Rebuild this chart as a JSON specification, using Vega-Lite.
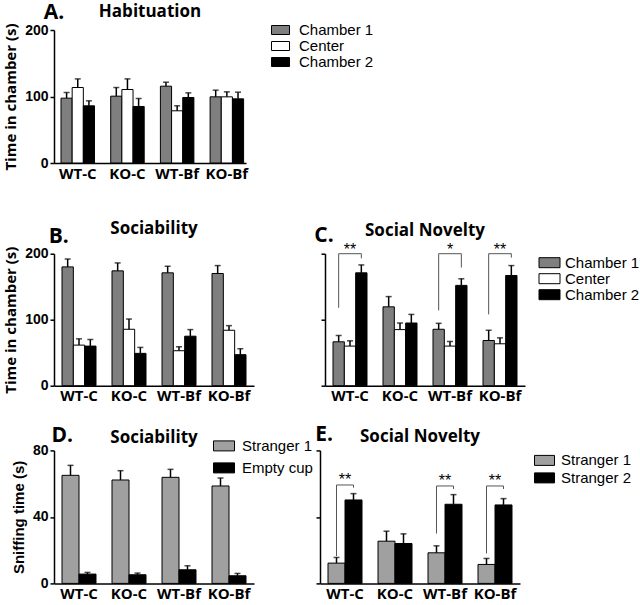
{
  "$schema": "https://vega.github.io/schema/vega-lite/v6.json",
  "padding": {"left": 3, "top": 1, "right": 0, "bottom": 0},
  "background": "white",
  "spacing": 38.7,
  "resolve": {"scale": {"fill": "independent", "xOffset": "independent", "x": "independent", "y": "independent"}, "legend": {"fill": "independent"}},
  "config": {
    "view": {"stroke": null},
    "axis": {"domainColor": "black", "domainWidth": 1.5, "tickColor": "black", "tickWidth": 1.5, "tickSize": 4, "grid": false, "labelColor": "black", "titleColor": "black"},
    "axisX": {"ticks": false, "labelAngle": 0, "labelFont": "Open Sans", "labelFontWeight": "bold", "labelFontSize": 15, "labelPadding": 3},
    "axisY": {"labelFont": "Liberation Sans", "labelFontWeight": "bold", "labelFontSize": 14, "labelPadding": 2, "titleFont": "Open Sans", "titleFontWeight": "bold", "titleFontSize": 15, "titlePadding": 6},
    "legend": {"labelFont": "Liberation Sans", "labelFontSize": 15, "labelColor": "black", "symbolStrokeColor": "black", "symbolStrokeWidth": 1, "rowPadding": 0, "labelOffset": 6, "padding": 0, "symbolOpacity": 1, "symbolSize": 100},
    "title": {"font": "Open Sans", "fontWeight": "bold", "fontSize": 17, "color": "black"}
  },
  "datasets": {
    "A": [
      {"g": "WT-C", "s": "Chamber 1", "v": 97.5, "hi": 106},
      {"g": "WT-C", "s": "Center", "v": 113.5, "hi": 126.5},
      {"g": "WT-C", "s": "Chamber 2", "v": 86, "hi": 93.5},
      {"g": "KO-C", "s": "Chamber 1", "v": 100.5, "hi": 113.5},
      {"g": "KO-C", "s": "Center", "v": 110.5, "hi": 126.5},
      {"g": "KO-C", "s": "Chamber 2", "v": 85, "hi": 97},
      {"g": "WT-Bf", "s": "Chamber 1", "v": 115.5, "hi": 121.5},
      {"g": "WT-Bf", "s": "Center", "v": 78.5, "hi": 86},
      {"g": "WT-Bf", "s": "Chamber 2", "v": 98.5, "hi": 105.5},
      {"g": "KO-Bf", "s": "Chamber 1", "v": 99.5, "hi": 109.5},
      {"g": "KO-Bf", "s": "Center", "v": 99.5, "hi": 107},
      {"g": "KO-Bf", "s": "Chamber 2", "v": 96.5, "hi": 106.5}
    ],
    "B": [
      {"g": "WT-C", "s": "Chamber 1", "v": 180, "hi": 192},
      {"g": "WT-C", "s": "Center", "v": 61.5, "hi": 71},
      {"g": "WT-C", "s": "Chamber 2", "v": 60, "hi": 70},
      {"g": "KO-C", "s": "Chamber 1", "v": 174, "hi": 186},
      {"g": "KO-C", "s": "Center", "v": 85.5, "hi": 101},
      {"g": "KO-C", "s": "Chamber 2", "v": 49, "hi": 58},
      {"g": "WT-Bf", "s": "Chamber 1", "v": 171, "hi": 181},
      {"g": "WT-Bf", "s": "Center", "v": 53, "hi": 59},
      {"g": "WT-Bf", "s": "Chamber 2", "v": 75, "hi": 85},
      {"g": "KO-Bf", "s": "Chamber 1", "v": 170, "hi": 182},
      {"g": "KO-Bf", "s": "Center", "v": 84, "hi": 91},
      {"g": "KO-Bf", "s": "Chamber 2", "v": 47, "hi": 56}
    ],
    "C": [
      {"g": "WT-C", "s": "Chamber 1", "v": 66.5, "hi": 76},
      {"g": "WT-C", "s": "Center", "v": 60, "hi": 68},
      {"g": "WT-C", "s": "Chamber 2", "v": 171, "hi": 183},
      {"g": "KO-C", "s": "Chamber 1", "v": 119.5, "hi": 135},
      {"g": "KO-C", "s": "Center", "v": 85, "hi": 95},
      {"g": "KO-C", "s": "Chamber 2", "v": 95, "hi": 108},
      {"g": "WT-Bf", "s": "Chamber 1", "v": 85.5, "hi": 94.5},
      {"g": "WT-Bf", "s": "Center", "v": 60, "hi": 67},
      {"g": "WT-Bf", "s": "Chamber 2", "v": 152, "hi": 162},
      {"g": "KO-Bf", "s": "Chamber 1", "v": 68.5, "hi": 84},
      {"g": "KO-Bf", "s": "Center", "v": 63.5, "hi": 72.5},
      {"g": "KO-Bf", "s": "Chamber 2", "v": 167, "hi": 182}
    ],
    "Cbr": [
      {"g": "WT-C", "s": "Chamber 1", "y": 118, "o": 1},
      {"g": "WT-C", "s": "Chamber 1", "y": 200, "o": 2},
      {"g": "WT-C", "s": "Chamber 2", "y": 200, "o": 3},
      {"g": "WT-C", "s": "Chamber 2", "y": 193, "o": 4},
      {"g": "WT-Bf", "s": "Chamber 1", "y": 114, "o": 1},
      {"g": "WT-Bf", "s": "Chamber 1", "y": 200, "o": 2},
      {"g": "WT-Bf", "s": "Chamber 2", "y": 200, "o": 3},
      {"g": "WT-Bf", "s": "Chamber 2", "y": 179, "o": 4},
      {"g": "KO-Bf", "s": "Chamber 1", "y": 108, "o": 1},
      {"g": "KO-Bf", "s": "Chamber 1", "y": 200, "o": 2},
      {"g": "KO-Bf", "s": "Chamber 2", "y": 200, "o": 3},
      {"g": "KO-Bf", "s": "Chamber 2", "y": 194, "o": 4}
    ],
    "Cst": [
      {"g": "WT-C", "y": 200, "t": "**"},
      {"g": "WT-Bf", "y": 200, "t": "*"},
      {"g": "KO-Bf", "y": 200, "t": "**"}
    ],
    "D": [
      {"g": "WT-C", "s": "Stranger 1", "v": 65, "hi": 71},
      {"g": "WT-C", "s": "Empty cup", "v": 5.6, "hi": 6.6},
      {"g": "KO-C", "s": "Stranger 1", "v": 62.2, "hi": 67.8},
      {"g": "KO-C", "s": "Empty cup", "v": 5.2, "hi": 6.2},
      {"g": "WT-Bf", "s": "Stranger 1", "v": 63.8, "hi": 68.6},
      {"g": "WT-Bf", "s": "Empty cup", "v": 8.2, "hi": 10.6},
      {"g": "KO-Bf", "s": "Stranger 1", "v": 58.6, "hi": 63.4},
      {"g": "KO-Bf", "s": "Empty cup", "v": 4.6, "hi": 6}
    ],
    "E": [
      {"g": "WT-C", "s": "Stranger 1", "v": 12.2, "hi": 15.6},
      {"g": "WT-C", "s": "Stranger 2", "v": 50.2, "hi": 54},
      {"g": "KO-C", "s": "Stranger 1", "v": 25.4, "hi": 31.4},
      {"g": "KO-C", "s": "Stranger 2", "v": 24, "hi": 29.8},
      {"g": "WT-Bf", "s": "Stranger 1", "v": 18.4, "hi": 22.6},
      {"g": "WT-Bf", "s": "Stranger 2", "v": 47.6, "hi": 53.4},
      {"g": "KO-Bf", "s": "Stranger 1", "v": 11.4, "hi": 15},
      {"g": "KO-Bf", "s": "Stranger 2", "v": 47.2, "hi": 51}
    ],
    "Ebr": [
      {"g": "WT-C", "s": "Stranger 1", "y": 16.5, "o": 1},
      {"g": "WT-C", "s": "Stranger 1", "y": 59.2, "o": 2},
      {"g": "WT-C", "s": "Stranger 2", "y": 59.2, "o": 3},
      {"g": "WT-C", "s": "Stranger 2", "y": 57.6, "o": 4},
      {"g": "WT-Bf", "s": "Stranger 1", "y": 30, "o": 1},
      {"g": "WT-Bf", "s": "Stranger 1", "y": 58.6, "o": 2},
      {"g": "WT-Bf", "s": "Stranger 2", "y": 58.6, "o": 3},
      {"g": "WT-Bf", "s": "Stranger 2", "y": 56.8, "o": 4},
      {"g": "KO-Bf", "s": "Stranger 1", "y": 18, "o": 1},
      {"g": "KO-Bf", "s": "Stranger 1", "y": 58.6, "o": 2},
      {"g": "KO-Bf", "s": "Stranger 2", "y": 58.6, "o": 3},
      {"g": "KO-Bf", "s": "Stranger 2", "y": 56.8, "o": 4}
    ],
    "Est": [
      {"g": "WT-C", "y": 59.2, "t": "**"},
      {"g": "WT-Bf", "y": 58.6, "t": "**"},
      {"g": "KO-Bf", "y": 58.6, "t": "**"}
    ]
  },
  "vconcat": [
    {
      "title": {"text": "A.", "anchor": "start", "fontSize": 21, "offset": -20.3, "dx": 40},
      "resolve": {"scale": {"fill": "independent", "xOffset": "independent"}, "legend": {"fill": "independent"}},
      "hconcat": [
        {
          "title": {"text": "Habituation", "offset": 1.9},
          "width": 192, "height": 133,
          "data": {"name": "A"},
          "encoding": {
            "x": {"field": "g", "type": "nominal", "title": null, "scale": {"domain": ["WT-C", "KO-C", "WT-Bf", "KO-Bf"], "paddingInner": 0.326, "paddingOuter": 0.0946, "align": 0.745}},
            "xOffset": {"field": "s", "type": "nominal", "scale": {"domain": ["Chamber 1", "Center", "Chamber 2"], "paddingInner": 0, "paddingOuter": 0}}
          },
          "layer": [
            {
              "mark": {"type": "bar", "stroke": "black", "strokeWidth": 1},
              "encoding": {
                "y": {"field": "v", "type": "quantitative", "scale": {"domain": [0, 200]}, "axis": {"values": [0, 50, 100, 150, 200], "title": "Time in chamber (s)"}},
                "fill": {"field": "s", "type": "nominal", "scale": {"domain": ["Chamber 1", "Center", "Chamber 2"], "range": ["#7f7f7f", "#ffffff", "#000000"]},
                  "legend": {"orient": "none", "legendX": 219, "legendY": -7.5, "title": null, "symbolType": "M-1.8,-0.9H1.8V0.9H-1.8Z", "symbolSize": 100, "rowPadding": 0, "labelOffset": 11}}
              }
            },
            {"mark": {"type": "rule", "strokeWidth": 1.5, "color": "black"}, "encoding": {"y": {"field": "v", "type": "quantitative"}, "y2": {"field": "hi"}}},
            {"mark": {"type": "tick", "thickness": 1.5, "size": 6, "color": "black"}, "encoding": {"y": {"field": "hi", "type": "quantitative"}}}
          ]
        }
      ]
    },
    {
      "spacing": 19.7,
      "resolve": {"scale": {"fill": "independent", "xOffset": "independent", "x": "independent", "y": "independent"}, "legend": {"fill": "independent"}},
      "vconcat": [
        {
          "spacing": 60,
          "resolve": {"scale": {"fill": "independent", "xOffset": "independent", "x": "independent", "y": "independent"}, "legend": {"fill": "independent"}},
          "hconcat": [
            {
              "title": {"text": "B.", "anchor": "start", "fontSize": 21, "offset": -26.7, "dx": 45},
              "resolve": {"scale": {"fill": "independent", "xOffset": "independent"}, "legend": {"fill": "independent"}},
              "hconcat": [
                {
                  "title": {"text": "Sociability", "offset": 8},
                  "width": 200, "height": 132,
                  "data": {"name": "B"},
                  "encoding": {
                    "x": {"field": "g", "type": "nominal", "title": null, "scale": {"domain": ["WT-C", "KO-C", "WT-Bf", "KO-Bf"], "paddingInner": 0.32, "paddingOuter": 0.16}},
                    "xOffset": {"field": "s", "type": "nominal", "scale": {"domain": ["Chamber 1", "Center", "Chamber 2"], "paddingInner": 0, "paddingOuter": 0}}
                  },
                  "layer": [
                    {
                      "mark": {"type": "bar", "stroke": "black", "strokeWidth": 1},
                      "encoding": {
                        "y": {"field": "v", "type": "quantitative", "scale": {"domain": [0, 200]}, "axis": {"values": [0, 50, 100, 150, 200], "title": "Time in chamber (s)"}},
                        "fill": {"field": "s", "type": "nominal", "scale": {"domain": ["Chamber 1", "Center", "Chamber 2"], "range": ["#7f7f7f", "#ffffff", "#000000"]}, "legend": null}
                      }
                    },
                    {"mark": {"type": "rule", "strokeWidth": 1.5, "color": "black"}, "encoding": {"y": {"field": "v", "type": "quantitative"}, "y2": {"field": "hi"}}},
                    {"mark": {"type": "tick", "thickness": 1.5, "size": 6, "color": "black"}, "encoding": {"y": {"field": "hi", "type": "quantitative"}}}
                  ]
                }
              ]
            },
            {
              "title": {"text": "C.", "anchor": "start", "fontSize": 21, "offset": -23.8, "dx": -6},
              "resolve": {"scale": {"fill": "independent", "xOffset": "independent"}, "legend": {"fill": "independent"}},
              "hconcat": [
                {
                  "title": {"text": "Social Novelty", "offset": 1.4},
                  "width": 200, "height": 132,
                  "layer": [
                    {
                      "data": {"name": "C"},
                      "mark": {"type": "bar", "stroke": "black", "strokeWidth": 1},
                      "encoding": {
                        "x": {"field": "g", "type": "nominal", "title": null, "scale": {"domain": ["WT-C", "KO-C", "WT-Bf", "KO-Bf"], "paddingInner": 0.32, "paddingOuter": 0.16}},
                        "xOffset": {"field": "s", "type": "nominal", "scale": {"domain": ["Chamber 1", "Center", "Chamber 2"], "paddingInner": 0, "paddingOuter": 0}},
                        "y": {"field": "v", "type": "quantitative", "scale": {"domain": [0, 200]}, "axis": {"values": [0, 50, 100, 150, 200], "labels": false, "title": null}},
                        "fill": {"field": "s", "type": "nominal", "scale": {"domain": ["Chamber 1", "Center", "Chamber 2"], "range": ["#7f7f7f", "#ffffff", "#000000"]},
                          "legend": {"orient": "none", "legendX": 217, "legendY": 1.5, "title": null, "symbolType": "M-2.1,-1H2.1V1H-2.1Z", "symbolSize": 100, "rowPadding": 0, "labelOffset": 8}}
                      }
                    },
                    {"data": {"name": "C"}, "mark": {"type": "rule", "strokeWidth": 1.5, "color": "black"}, "encoding": {"x": {"field": "g", "type": "nominal"}, "xOffset": {"field": "s", "type": "nominal"}, "y": {"field": "v", "type": "quantitative"}, "y2": {"field": "hi"}}},
                    {"data": {"name": "C"}, "mark": {"type": "tick", "thickness": 1.5, "size": 6, "color": "black"}, "encoding": {"x": {"field": "g", "type": "nominal"}, "xOffset": {"field": "s", "type": "nominal"}, "y": {"field": "hi", "type": "quantitative"}}},
                    {"data": {"name": "Cbr"}, "mark": {"type": "line", "strokeWidth": 1, "color": "#555555"}, "encoding": {"x": {"field": "g", "type": "nominal"}, "xOffset": {"field": "s", "type": "nominal"}, "y": {"field": "y", "type": "quantitative"}, "detail": {"field": "g"}, "order": {"field": "o"}}},
                    {"data": {"name": "Cst"}, "mark": {"type": "text", "font": "Liberation Sans", "fontSize": 16, "baseline": "alphabetic", "fill": "black", "dy": 1}, "encoding": {"x": {"field": "g", "type": "nominal"}, "y": {"field": "y", "type": "quantitative"}, "text": {"field": "t"}}}
                  ]
                }
              ]
            }
          ]
        },
        {
          "spacing": 1,
          "resolve": {"scale": {"fill": "independent", "xOffset": "independent", "x": "independent", "y": "independent"}, "legend": {"fill": "independent"}},
          "hconcat": [
            {
              "title": {"text": "D.", "anchor": "start", "fontSize": 21, "offset": -16.8, "dx": 40},
              "resolve": {"scale": {"fill": "independent", "xOffset": "independent"}, "legend": {"fill": "independent"}},
              "hconcat": [
                {
                  "title": {"text": "Sociability", "offset": -8.6},
                  "width": 200, "height": 133,
                  "data": {"name": "D"},
                  "encoding": {
                    "x": {"field": "g", "type": "nominal", "title": null, "scale": {"domain": ["WT-C", "KO-C", "WT-Bf", "KO-Bf"], "paddingInner": 0.32, "paddingOuter": 0.16}},
                    "xOffset": {"field": "s", "type": "nominal", "scale": {"domain": ["Stranger 1", "Empty cup"], "paddingInner": 0, "paddingOuter": 0}}
                  },
                  "layer": [
                    {
                      "mark": {"type": "bar", "stroke": "black", "strokeWidth": 1},
                      "encoding": {
                        "y": {"field": "v", "type": "quantitative", "scale": {"domain": [0, 80]}, "axis": {"values": [0, 20, 40, 60, 80], "title": "Sniffing time (s)", "titleFont": "Liberation Sans"}},
                        "fill": {"field": "s", "type": "nominal", "scale": {"domain": ["Stranger 1", "Empty cup"], "range": ["#a0a0a0", "#000000"]},
                          "legend": {"orient": "none", "legendX": 162.5, "legendY": -12, "title": null, "symbolType": "M-2.1,-1H2.1V1H-2.1Z", "symbolSize": 100, "rowPadding": 6, "labelOffset": 10.5}}
                      }
                    },
                    {"mark": {"type": "rule", "strokeWidth": 1.5, "color": "black"}, "encoding": {"y": {"field": "v", "type": "quantitative"}, "y2": {"field": "hi"}}},
                    {"mark": {"type": "tick", "thickness": 1.5, "size": 6, "color": "black"}, "encoding": {"y": {"field": "hi", "type": "quantitative"}}}
                  ]
                }
              ]
            },
            {
              "title": {"text": "E.", "anchor": "start", "fontSize": 21, "offset": -16.8, "dx": 0},
              "resolve": {"scale": {"fill": "independent", "xOffset": "independent"}, "legend": {"fill": "independent"}},
              "hconcat": [
                {
                  "title": {"text": "Social Novelty", "offset": 3.4},
                  "width": 200, "height": 133,
                  "layer": [
                    {
                      "data": {"name": "E"},
                      "mark": {"type": "bar", "stroke": "black", "strokeWidth": 1},
                      "encoding": {
                        "x": {"field": "g", "type": "nominal", "title": null, "scale": {"domain": ["WT-C", "KO-C", "WT-Bf", "KO-Bf"], "paddingInner": 0.32, "paddingOuter": 0.16}},
                        "xOffset": {"field": "s", "type": "nominal", "scale": {"domain": ["Stranger 1", "Stranger 2"], "paddingInner": 0, "paddingOuter": 0}},
                        "y": {"field": "v", "type": "quantitative", "scale": {"domain": [0, 80]}, "axis": {"values": [0, 20, 40, 60, 80], "labels": false, "title": null}},
                        "fill": {"field": "s", "type": "nominal", "scale": {"domain": ["Stranger 1", "Stranger 2"], "range": ["#a0a0a0", "#000000"]},
                          "legend": {"orient": "none", "legendX": 217, "legendY": 2.5, "title": null, "symbolType": "M-2,-1H2V1H-2Z", "symbolSize": 100, "rowPadding": 1.5, "labelOffset": 9}}
                      }
                    },
                    {"data": {"name": "E"}, "mark": {"type": "rule", "strokeWidth": 1.5, "color": "black"}, "encoding": {"x": {"field": "g", "type": "nominal"}, "xOffset": {"field": "s", "type": "nominal"}, "y": {"field": "v", "type": "quantitative"}, "y2": {"field": "hi"}}},
                    {"data": {"name": "E"}, "mark": {"type": "tick", "thickness": 1.5, "size": 6, "color": "black"}, "encoding": {"x": {"field": "g", "type": "nominal"}, "xOffset": {"field": "s", "type": "nominal"}, "y": {"field": "hi", "type": "quantitative"}}},
                    {"data": {"name": "Ebr"}, "mark": {"type": "line", "strokeWidth": 1, "color": "#555555"}, "encoding": {"x": {"field": "g", "type": "nominal"}, "xOffset": {"field": "s", "type": "nominal"}, "y": {"field": "y", "type": "quantitative"}, "detail": {"field": "g"}, "order": {"field": "o"}}},
                    {"data": {"name": "Est"}, "mark": {"type": "text", "font": "Liberation Sans", "fontSize": 16, "baseline": "alphabetic", "fill": "black"}, "encoding": {"x": {"field": "g", "type": "nominal"}, "y": {"field": "y", "type": "quantitative"}, "text": {"field": "t"}}}
                  ]
                }
              ]
            }
          ]
        }
      ]
    }
  ]
}
